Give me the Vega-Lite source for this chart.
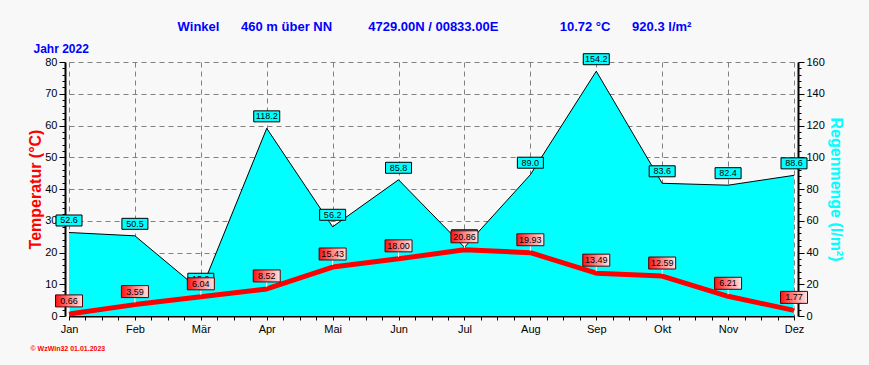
{
  "$schema": "https://vega.github.io/schema/vega-lite/v6.json",
  "width": 725,
  "height": 254,
  "autosize": "none",
  "padding": {"left": 69, "top": 62, "right": 75, "bottom": 49},
  "background": "#f8f8f8",
  "config": {"view": {"stroke": null}, "font": "Liberation Sans"},
  "title": {
    "text": "Winkel\u00a0\u00a0\u00a0\u00a0\u00a0\u00a0460 m über NN\u00a0\u00a0\u00a0\u00a0\u00a0\u00a0\u00a0\u00a0\u00a0\u00a04729.00N / 00833.00E\u00a0\u00a0\u00a0\u00a0\u00a0\u00a0\u00a0\u00a0\u00a0\u00a0\u00a0\u00a0\u00a0\u00a0\u00a0\u00a0\u00a010.72 °C\u00a0\u00a0\u00a0\u00a0\u00a0\u00a0920.3 l/m²",
    "color": "#0000ff",
    "fontSize": 13,
    "fontWeight": "bold",
    "anchor": "middle",
    "dx": 3,
    "offset": 8
  },
  "data": {
    "values": [
      {"m": 1, "month": "Jan", "temp": 0.66, "rain": 52.6},
      {"m": 2, "month": "Feb", "temp": 3.59, "rain": 50.5},
      {"m": 3, "month": "Mär", "temp": 6.04, "rain": 15.9},
      {"m": 4, "month": "Apr", "temp": 8.52, "rain": 118.2},
      {"m": 5, "month": "Mai", "temp": 15.43, "rain": 56.2},
      {"m": 6, "month": "Jun", "temp": 18.0, "rain": 85.8},
      {"m": 7, "month": "Jul", "temp": 20.86, "rain": 43.3},
      {"m": 8, "month": "Aug", "temp": 19.93, "rain": 89.0},
      {"m": 9, "month": "Sep", "temp": 13.49, "rain": 154.2},
      {"m": 10, "month": "Okt", "temp": 12.59, "rain": 83.6},
      {"m": 11, "month": "Nov", "temp": 6.21, "rain": 82.4},
      {"m": 12, "month": "Dez", "temp": 1.77, "rain": 88.6}
    ]
  },
  "resolve": {"scale": {"y": "independent"}, "axis": {"x": "independent"}},
  "layer": [
    {
      "layer": [
        {
          "mark": {"type": "area", "color": "#00ffff", "opacity": 1},
          "encoding": {
            "x": {
              "field": "m", "type": "quantitative",
              "scale": {"domain": [1, 12], "nice": false, "zero": false},
              "axis": {
                "orient": "bottom",
                "values": [1,1.25,1.5,1.75,2,2.25,2.5,2.75,3,3.25,3.5,3.75,4,4.25,4.5,4.75,5,5.25,5.5,5.75,6,6.25,6.5,6.75,7,7.25,7.5,7.75,8,8.25,8.5,8.75,9,9.25,9.5,9.75,10,10.25,10.5,10.75,11,11.25,11.5,11.75,12],
                "tickCount": 500,
                "labelExpr": "datum.value % 1 === 0 ? ['Jan','Feb','Mär','Apr','Mai','Jun','Jul','Aug','Sep','Okt','Nov','Dez'][datum.value - 1] : ''",
                "labelOverlap": false,
                "labelFlush": false,
                "labelBound": false,
                "labelFontSize": 11,
                "labelColor": "#000000",
                "labelPadding": 3,
                "tickSize": 4,
                "tickColor": "#000000",
                "domainColor": "#000000",
                "domainWidth": 2,
                "grid": true,
                "gridColor": "#808080",
                "gridDash": [5, 4],
                "gridOpacity": {"condition": {"test": "datum.value % 1 === 0", "value": 1}, "value": 0},
                "title": "© WzWin32  01.01.2023",
                "titleColor": "#ff0000",
                "titleFontSize": 7,
                "titleFontWeight": "bold",
                "titleAnchor": "start",
                "titleAlign": "left",
                "titleBaseline": "alphabetic",
                "titleX": -39,
                "titleY": 34
              }
            },
            "y": {
              "field": "rain", "type": "quantitative",
              "scale": {"domain": [0, 160], "nice": false},
              "axis": {
                "orient": "right",
                "offset": 4,
                "values": [0,4,8,12,16,20,24,28,32,36,40,44,48,52,56,60,64,68,72,76,80,84,88,92,96,100,104,108,112,116,120,124,128,132,136,140,144,148,152,156,160],
                "tickCount": 500,
                "labelExpr": "datum.value % 20 === 0 ? datum.value : ''",
                "labelOverlap": false,
                "labelBound": false,
                "labelFlush": false,
                "labelFontSize": 11,
                "labelColor": "#000000",
                "labelPadding": 2,
                "tickSize": {"condition": {"test": "datum.value % 20 === 0", "value": 6}, "value": 3},
                "tickColor": "#000000",
                "domainColor": "#000000",
                "domainWidth": 2,
                "grid": false,
                "title": "Regenmenge  (l/m²)",
                "titleAngle": 90,
                "titleColor": "#00ffff",
                "titleFontSize": 16,
                "titleFontWeight": "bold",
                "titlePadding": 3
              }
            }
          }
        },
        {
          "mark": {"type": "line", "color": "#000000", "strokeWidth": 1},
          "encoding": {
            "x": {"field": "m", "type": "quantitative"},
            "y": {"field": "rain", "type": "quantitative"}
          }
        },
        {
          "mark": {"type": "rect", "width": 26, "height": 11, "yOffset": -12, "fill": "#00ffff", "stroke": "#000000", "strokeWidth": 1},
          "encoding": {
            "x": {"field": "m", "type": "quantitative"},
            "y": {"field": "rain", "type": "quantitative"}
          }
        },
        {
          "mark": {"type": "text", "yOffset": -12, "fontSize": 9, "color": "#000000", "align": "center", "baseline": "middle"},
          "encoding": {
            "x": {"field": "m", "type": "quantitative"},
            "y": {"field": "rain", "type": "quantitative"},
            "text": {"field": "rain", "type": "quantitative", "format": ".1f"}
          }
        }
      ]
    },
    {
      "layer": [
        {
          "mark": {"type": "line", "color": "#ff0000", "strokeWidth": 5, "strokeJoin": "round"},
          "encoding": {
            "x": {
              "field": "m", "type": "quantitative",
              "axis": {
                "orient": "top",
                "domain": false,
                "ticks": false,
                "labels": false,
                "grid": false,
                "title": "Jahr  2022",
                "titleColor": "#0000ff",
                "titleFontSize": 12,
                "titleFontWeight": "bold",
                "titleAnchor": "start",
                "titleAlign": "left",
                "titleBaseline": "alphabetic",
                "titleX": -36,
                "titleY": -10
              }
            },
            "y": {
              "field": "temp", "type": "quantitative",
              "scale": {"domain": [0, 80], "nice": false},
              "axis": {
                "orient": "left",
                "offset": 4,
                "values": [0,2,4,6,8,10,12,14,16,18,20,22,24,26,28,30,32,34,36,38,40,42,44,46,48,50,52,54,56,58,60,62,64,66,68,70,72,74,76,78,80],
                "tickCount": 500,
                "labelExpr": "datum.value % 10 === 0 ? datum.value : ''",
                "labelOverlap": false,
                "labelBound": false,
                "labelFlush": false,
                "labelFontSize": 11,
                "labelColor": "#000000",
                "labelPadding": 2,
                "tickSize": {"condition": {"test": "datum.value % 10 === 0", "value": 6}, "value": 3},
                "tickColor": "#000000",
                "domainColor": "#000000",
                "domainWidth": 2,
                "grid": true,
                "gridColor": "#808080",
                "gridDash": [5, 4],
                "gridOpacity": {"condition": {"test": "datum.value % 10 === 0 && datum.value > 0", "value": 1}, "value": 0},
                "title": "Temperatur  (°C)",
                "titleColor": "#ff0000",
                "titleFontSize": 16,
                "titleFontWeight": "bold",
                "titlePadding": 1
              }
            }
          }
        },
        {
          "mark": {"type": "rule", "color": "#ffffff", "strokeWidth": 1, "yOffset": -8, "y2Offset": -2},
          "encoding": {
            "x": {"field": "m", "type": "quantitative"},
            "y": {"field": "temp", "type": "quantitative"},
            "y2": {"field": "temp"}
          }
        },
        {
          "mark": {
            "type": "rect", "width": 27, "height": 12, "yOffset": -13,
            "fill": {"gradient": "linear", "x1": 0, "y1": 0, "x2": 1, "y2": 0, "stops": [{"offset": 0, "color": "#ff1010"}, {"offset": 0.55, "color": "#ff9090"}, {"offset": 1, "color": "#ffe4e4"}]},
            "stroke": "#500000", "strokeWidth": 1
          },
          "encoding": {
            "x": {"field": "m", "type": "quantitative"},
            "y": {"field": "temp", "type": "quantitative"}
          }
        },
        {
          "mark": {"type": "text", "yOffset": -13, "fontSize": 9, "color": "#000000", "align": "center", "baseline": "middle"},
          "encoding": {
            "x": {"field": "m", "type": "quantitative"},
            "y": {"field": "temp", "type": "quantitative"},
            "text": {"field": "temp", "type": "quantitative", "format": ".2f"}
          }
        }
      ]
    }
  ]
}
